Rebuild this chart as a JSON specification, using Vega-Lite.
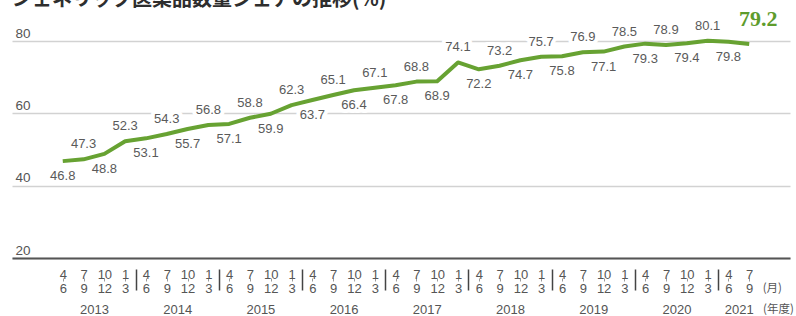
{
  "$schema": "https://vega.github.io/schema/vega-lite/v6.json",
  "width": 778,
  "height": 244,
  "autosize": {"type": "none"},
  "padding": {"left": 12, "top": 14, "right": 6, "bottom": 58},
  "title": {
    "text": "ジェネリック医薬品数量シェアの推移(%)",
    "anchor": "start",
    "frame": "group",
    "orient": "top",
    "offset": 0,
    "dy": 18,
    "baseline": "alphabetic",
    "font": "Noto Sans CJK JP",
    "fontSize": 20,
    "fontWeight": "bold",
    "color": "#2e2e2e"
  },
  "config": {"view": {"stroke": null}, "font": "Liberation Sans"},
  "data": {
    "values": [
      {"i": 0, "fy": 2013, "share": 46.8},
      {"i": 1, "fy": 2013, "share": 47.3},
      {"i": 2, "fy": 2013, "share": 48.8},
      {"i": 3, "fy": 2013, "share": 52.3},
      {"i": 4, "fy": 2014, "share": 53.1},
      {"i": 5, "fy": 2014, "share": 54.3},
      {"i": 6, "fy": 2014, "share": 55.7},
      {"i": 7, "fy": 2014, "share": 56.8},
      {"i": 8, "fy": 2015, "share": 57.1},
      {"i": 9, "fy": 2015, "share": 58.8},
      {"i": 10, "fy": 2015, "share": 59.9},
      {"i": 11, "fy": 2015, "share": 62.3},
      {"i": 12, "fy": 2016, "share": 63.7},
      {"i": 13, "fy": 2016, "share": 65.1},
      {"i": 14, "fy": 2016, "share": 66.4},
      {"i": 15, "fy": 2016, "share": 67.1},
      {"i": 16, "fy": 2017, "share": 67.8},
      {"i": 17, "fy": 2017, "share": 68.8},
      {"i": 18, "fy": 2017, "share": 68.9},
      {"i": 19, "fy": 2017, "share": 74.1},
      {"i": 20, "fy": 2018, "share": 72.2},
      {"i": 21, "fy": 2018, "share": 73.2},
      {"i": 22, "fy": 2018, "share": 74.7},
      {"i": 23, "fy": 2018, "share": 75.7},
      {"i": 24, "fy": 2019, "share": 75.8},
      {"i": 25, "fy": 2019, "share": 76.9},
      {"i": 26, "fy": 2019, "share": 77.1},
      {"i": 27, "fy": 2019, "share": 78.5},
      {"i": 28, "fy": 2020, "share": 79.3},
      {"i": 29, "fy": 2020, "share": 78.9},
      {"i": 30, "fy": 2020, "share": 79.4},
      {"i": 31, "fy": 2020, "share": 80.1},
      {"i": 32, "fy": 2021, "share": 79.8},
      {"i": 33, "fy": 2021, "share": 79.2}
    ]
  },
  "encoding": {
    "x": {
      "field": "i",
      "type": "quantitative",
      "scale": {"domain": [-2.44, 34.96], "nice": false, "zero": false},
      "axis": {
        "title": null,
        "orient": "bottom",
        "zindex": 1,
        "grid": false,
        "domain": true,
        "domainColor": "#555555",
        "domainWidth": 2,
        "values": [0,1,2,3,4,5,6,7,8,9,10,11,12,13,14,15,16,17,18,19,20,21,22,23,24,25,26,27,28,29,30,31,32,33,1.5,5.5,9.5,13.5,17.5,21.5,25.5,29.5,32.5,3.5,7.5,11.5,15.5,19.5,23.5,27.5,31.5,33.62,33.64],
        "ticks": true,
        "tickSize": 32,
        "tickDash": {"expr": "datum.value == floor(datum.value) ? [0,20,3,100] : (datum.value % 4 == 3.5 ? [0,11,21,100] : [0,100])"},
        "tickColor": {"expr": "datum.value == floor(datum.value) ? '#9a9a9a' : '#444444'"},
        "tickWidth": {"expr": "datum.value == floor(datum.value) ? 1 : 1.5"},
        "labelExpr": "datum.value == floor(datum.value) ? [['4','6'],['7','9'],['10','12'],['1','3']][datum.value % 4] : ((datum.value % 4 == 1.5 || datum.value == 32.5) ? '' + (2013 + floor(datum.value / 4)) : (datum.value == 33.62 ? ['', '(月)'] : (datum.value == 33.64 ? '(年度)' : '')))",
        "labelPadding": {"expr": "(datum.value % 4 == 1.5 || datum.value == 32.5 || datum.value == 33.64) ? 13 : -22"},
        "labelAlign": {"expr": "datum.value > 33.6 ? 'left' : 'center'"},
        "labelFont": {"expr": "datum.value > 33.6 ? 'Noto Sans CJK JP' : 'Liberation Sans'"},
        "labelFontSize": {"expr": "datum.value > 33.6 ? 11.5 : 13"},
        "labelBaseline": "top",
        "labelLineHeight": 14,
        "labelColor": "#555555",
        "labelOverlap": false,
        "labelFlush": false,
        "labelBound": false
      }
    },
    "y": {
      "field": "share",
      "type": "quantitative",
      "scale": {"domain": [20, 87.5], "nice": false, "zero": false},
      "axis": {
        "title": null,
        "zindex": 0,
        "values": [20, 40, 60, 80],
        "grid": true,
        "gridColor": "#d2d2d2",
        "gridWidth": 1.3,
        "domain": false,
        "ticks": false,
        "labelAlign": "left",
        "labelBaseline": "alphabetic",
        "labelPadding": -3,
        "labelOffset": -4,
        "labelFontSize": 13.5,
        "labelColor": "#555555",
        "labelFlush": false,
        "labelBound": false,
        "labelOverlap": false
      }
    }
  },
  "layer": [
    {
      "transform": [{"filter": "datum.i < 33 && datum.i % 2 == 1"}],
      "mark": {"type": "text", "font": "Liberation Sans", "fontSize": 13, "baseline": "middle", "dy": -15, "fill": "white", "stroke": "white", "strokeWidth": 8, "strokeJoin": "round"},
      "encoding": {"text": {"field": "share", "type": "quantitative", "format": ".1f"}}
    },
    {
      "transform": [{"filter": "datum.i < 33 && datum.i % 2 == 0"}],
      "mark": {"type": "text", "font": "Liberation Sans", "fontSize": 13, "baseline": "middle", "dy": 15, "fill": "white", "stroke": "white", "strokeWidth": 8, "strokeJoin": "round"},
      "encoding": {"text": {"field": "share", "type": "quantitative", "format": ".1f"}}
    },
    {
      "mark": {"type": "line", "color": "#67a232", "strokeWidth": 4, "strokeJoin": "round", "strokeCap": "butt"}
    },
    {
      "transform": [{"filter": "datum.i < 33 && datum.i % 2 == 1"}],
      "mark": {"type": "text", "font": "Liberation Sans", "fontSize": 13, "baseline": "middle", "dy": -15, "color": "#5a5a5a"},
      "encoding": {"text": {"field": "share", "type": "quantitative", "format": ".1f"}}
    },
    {
      "transform": [{"filter": "datum.i < 33 && datum.i % 2 == 0"}],
      "mark": {"type": "text", "font": "Liberation Sans", "fontSize": 13, "baseline": "middle", "dy": 15, "color": "#5a5a5a"},
      "encoding": {"text": {"field": "share", "type": "quantitative", "format": ".1f"}}
    },
    {
      "transform": [{"filter": "datum.i == 33"}],
      "mark": {"type": "text", "font": "Liberation Serif", "fontSize": 22, "fontWeight": "bold", "baseline": "middle", "dx": 9, "dy": -25, "color": "#5e9c2c"},
      "encoding": {"text": {"field": "share", "type": "quantitative", "format": ".1f"}}
    }
  ]
}
